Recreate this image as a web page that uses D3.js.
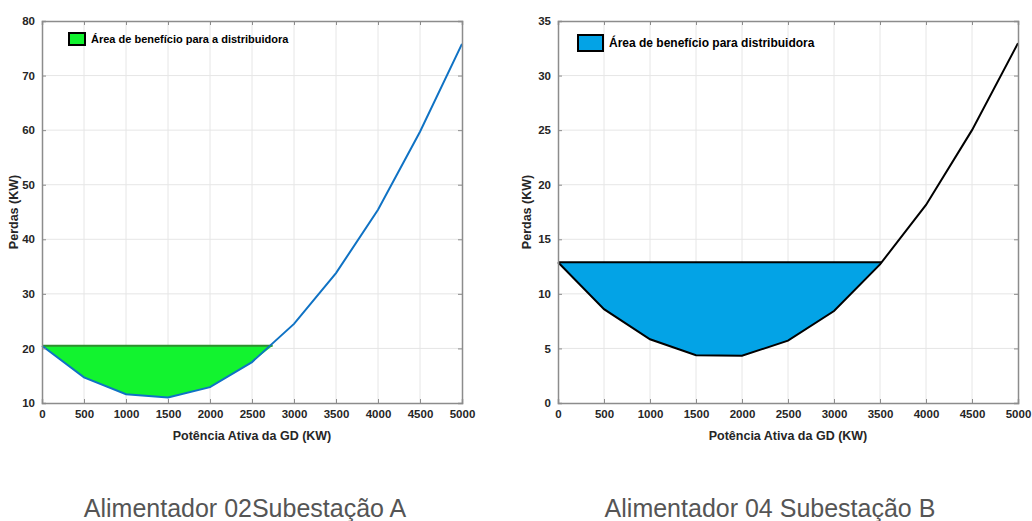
<!DOCTYPE html>
<html>
<head>
<meta charset="utf-8">
<script src="https://cdn.jsdelivr.net/npm/d3@7"></script>
<style>
  body { margin: 0; background: #fff; }
  text { font-family: "Liberation Sans", Arial, sans-serif; }
</style>
</head>
<body>
<svg id="chart" width="1032" height="521"></svg>
<script>

// Data
var potencia = [0, 500, 1000, 1500, 2000, 2500, 3000, 3500, 4000, 4500, 5000];
var perdasA = [20.5, 14.7, 11.6, 11.0, 12.9, 17.5, 24.5, 33.8, 45.4, 59.7, 75.8];
var perdasB = [12.9, 8.6, 5.84, 4.37, 4.33, 5.71, 8.43, 12.7, 18.15, 25.0, 32.97];
var xTicks = [0, 500, 1000, 1500, 2000, 2500, 3000, 3500, 4000, 4500, 5000];
var yTicksA = [10, 20, 30, 40, 50, 60, 70, 80];
var yTicksB = [0, 5, 10, 15, 20, 25, 30, 35];
var limiteA = 2746;   // end of the benefit area
var limiteB = 3518;
var legendas = ["Área de benefício para a distribuidora", "Área de benefício para distribuidora"];
var titulos = ["Alimentador 02Subestação A", "Alimentador 04 Subestação B"];

var svg = d3.select("#chart");

function drawPanel(cfg) {
  var g = svg.append("g");
  var x = d3.scaleLinear().domain([0, 5000]).range([cfg.left, cfg.right]);
  var y = d3.scaleLinear().domain(cfg.yDomain).range([403, 21]);

  // grid
  g.selectAll(".gx").data(xTicks.slice(1, -1)).enter().append("line")
    .attr("x1", d => x(d)).attr("x2", d => x(d))
    .attr("y1", 21).attr("y2", 403)
    .attr("stroke", "#e6e6e6").attr("stroke-width", 1);
  g.selectAll(".gy").data(cfg.yTicks.slice(1, -1)).enter().append("line")
    .attr("y1", d => y(d)).attr("y2", d => y(d))
    .attr("x1", cfg.left).attr("x2", cfg.right)
    .attr("stroke", "#e6e6e6").attr("stroke-width", 1);

  // benefit area: curve below the constant level up to the crossing point
  var nivel = cfg.values[0];
  var pts = [];
  potencia.forEach(function(p, i) {
    if (p <= cfg.limite) pts.push([p, cfg.values[i]]);
  });
  pts.push([cfg.limite, nivel]);
  var area = d3.line().x(d => x(d[0])).y(d => y(d[1]));
  g.append("path")
    .attr("d", area(pts) + "Z")
    .attr("fill", cfg.fill)
    .attr("stroke", "none");

  g.append("line")
    .attr("x1", x(0)).attr("x2", x(cfg.limite))
    .attr("y1", y(nivel)).attr("y2", y(nivel))
    .attr("stroke", cfg.edge).attr("stroke-width", 2);

  var line = d3.line().x((d, i) => x(potencia[i])).y(d => y(d));
  g.append("path")
    .datum(cfg.values)
    .attr("d", line)
    .attr("fill", "none")
    .attr("stroke", cfg.lineColor)
    .attr("stroke-width", 2);

  // axes (box with inward ticks)
  var axB = d3.axisBottom(x).tickValues(xTicks).tickSize(-4).tickPadding(7).tickFormat(d3.format("d"));
  var axT = d3.axisTop(x).tickValues(xTicks).tickSize(-4).tickFormat("");
  var axL = d3.axisLeft(y).tickValues(cfg.yTicks).tickSize(-4).tickPadding(7).tickFormat(d3.format("d"));
  var axR = d3.axisRight(y).tickValues(cfg.yTicks).tickSize(-4).tickFormat("");

  [[axB, "translate(0,403)"], [axT, "translate(0,21)"],
   [axL, "translate(" + cfg.left + ",0)"], [axR, "translate(" + cfg.right + ",0)"]]
    .forEach(function(a) {
      var ag = g.append("g").attr("transform", a[1]).call(a[0]);
      ag.select(".domain").attr("stroke", "#8c8c8c").attr("stroke-width", 1.5);
      ag.selectAll(".tick line").attr("stroke", "#8c8c8c");
      ag.selectAll("text")
        .style("font-family", "'Liberation Sans', Arial, sans-serif")
        .style("font-size", "11.5px").style("font-weight", "bold")
        .attr("fill", "#262626");
    });

  g.append("text")
    .attr("x", (cfg.left + cfg.right) / 2).attr("y", 440)
    .attr("text-anchor", "middle")
    .style("font-size", "12.5px").style("font-weight", "bold")
    .attr("fill", "#262626")
    .text("Potência Ativa da GD (KW)");

  g.append("text")
    .attr("transform", "translate(" + cfg.yLabelX + ",212) rotate(-90)")
    .attr("text-anchor", "middle")
    .style("font-size", "12.5px").style("font-weight", "bold")
    .attr("fill", "#262626")
    .text("Perdas (KW)");

  // legend
  g.append("rect")
    .attr("x", cfg.leg[0]).attr("y", cfg.leg[1])
    .attr("width", cfg.leg[2]).attr("height", cfg.leg[3])
    .attr("fill", cfg.fill).attr("stroke", "#000").attr("stroke-width", 2);
  g.append("text")
    .attr("x", cfg.leg[0] + cfg.leg[2] + 6).attr("y", cfg.leg[1] + cfg.leg[3] / 2 + 4)
    .style("font-size", cfg.legSize).style("font-weight", "bold")
    .attr("fill", "#000")
    .text(cfg.legenda);

  svg.append("text")
    .attr("x", cfg.titleX).attr("y", 517)
    .attr("text-anchor", "middle")
    .style("font-family", "'Liberation Sans', Arial, sans-serif")
    .style("font-size", "25px")
    .attr("fill", "#555")
    .text(cfg.titulo);
}

drawPanel({
  left: 42, right: 462, yDomain: [10, 80], yTicks: yTicksA,
  values: perdasA, limite: limiteA,
  fill: "#12f32f", edge: "#2f8f2f", lineColor: "#0f72c4",
  yLabelX: 18, leg: [69, 33, 16, 12], legSize: "11px", legenda: legendas[0],
  titulo: titulos[0], titleX: 245
});

drawPanel({
  left: 558, right: 1018, yDomain: [0, 35], yTicks: yTicksB,
  values: perdasB, limite: limiteB,
  fill: "#03a3e6", edge: "#000", lineColor: "#000",
  yLabelX: 531, leg: [578, 35, 25, 16], legSize: "12px", legenda: legendas[1],
  titulo: titulos[1], titleX: 770
});

</script>
</body>
</html>
